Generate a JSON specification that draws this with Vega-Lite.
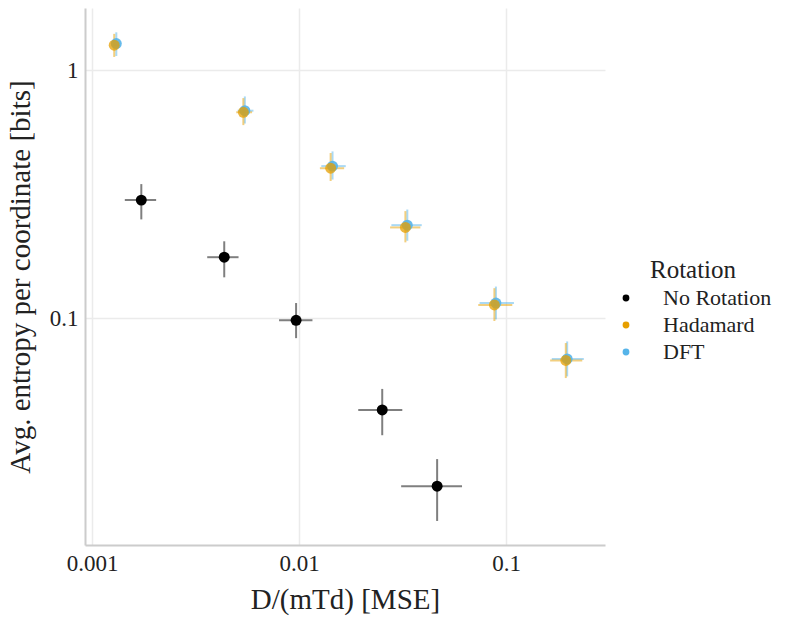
{
  "$schema": "https://vega.github.io/schema/vega-lite/v6.json",
  "width": 520,
  "height": 537,
  "autosize": {"type": "none"},
  "padding": {"left": 85, "top": 8, "right": 188, "bottom": 78},
  "background": "white",
  "config": {
    "font": "Liberation Serif",
    "view": {"stroke": null},
    "style": {
      "guide-label": {"font": "Liberation Serif"},
      "guide-title": {"font": "Liberation Serif"}
    },
    "axis": {
      "domainColor": "#cccccc",
      "domainWidth": 2,
      "gridColor": "#ebebeb",
      "gridWidth": 1.5,
      "ticks": false,
      "labelFont": "Liberation Serif",
      "labelFontSize": 23,
      "labelColor": "#222222",
      "titleFont": "Liberation Serif",
      "titleFontSize": 29,
      "titleFontWeight": "normal",
      "titleColor": "#222222"
    },
    "legend": {
      "titleFont": "Liberation Serif",
      "labelFont": "Liberation Serif",
      "titleFontSize": 25,
      "titleFontWeight": "normal",
      "labelFontSize": 22,
      "titleColor": "#222222",
      "labelColor": "#222222"
    }
  },
  "data": {
    "values": [
      {"rotation": "No Rotation", "x": 0.00173, "y": 0.299, "xlo": 0.00144, "xhi": 0.00204, "ylo": 0.25, "yhi": 0.347},
      {"rotation": "No Rotation", "x": 0.00435, "y": 0.176, "xlo": 0.0036, "xhi": 0.0051, "ylo": 0.146, "yhi": 0.204},
      {"rotation": "No Rotation", "x": 0.00967, "y": 0.098, "xlo": 0.008, "xhi": 0.0116, "ylo": 0.083, "yhi": 0.115},
      {"rotation": "No Rotation", "x": 0.0252, "y": 0.0426, "xlo": 0.0193, "xhi": 0.0315, "ylo": 0.0337, "yhi": 0.0518},
      {"rotation": "No Rotation", "x": 0.0464, "y": 0.021, "xlo": 0.0311, "xhi": 0.0612, "ylo": 0.0152, "yhi": 0.027},
      {"rotation": "DFT", "x": 0.00131, "y": 1.28, "xlo": 0.00126, "xhi": 0.00137, "ylo": 1.14, "yhi": 1.42},
      {"rotation": "DFT", "x": 0.00547, "y": 0.686, "xlo": 0.00505, "xhi": 0.00602, "ylo": 0.609, "yhi": 0.783},
      {"rotation": "DFT", "x": 0.0145, "y": 0.41, "xlo": 0.0128, "xhi": 0.0168, "ylo": 0.362, "yhi": 0.47},
      {"rotation": "DFT", "x": 0.0333, "y": 0.237, "xlo": 0.0279, "xhi": 0.0391, "ylo": 0.205, "yhi": 0.274},
      {"rotation": "DFT", "x": 0.0892, "y": 0.115, "xlo": 0.0744, "xhi": 0.109, "ylo": 0.0988, "yhi": 0.134},
      {"rotation": "DFT", "x": 0.197, "y": 0.0684, "xlo": 0.166, "xhi": 0.237, "ylo": 0.0582, "yhi": 0.0805},
      {"rotation": "Hadamard", "x": 0.00128, "y": 1.26, "xlo": 0.00124, "xhi": 0.00135, "ylo": 1.13, "yhi": 1.4},
      {"rotation": "Hadamard", "x": 0.00538, "y": 0.676, "xlo": 0.00497, "xhi": 0.00593, "ylo": 0.6, "yhi": 0.771},
      {"rotation": "Hadamard", "x": 0.0142, "y": 0.402, "xlo": 0.0126, "xhi": 0.0165, "ylo": 0.357, "yhi": 0.463},
      {"rotation": "Hadamard", "x": 0.0326, "y": 0.232, "xlo": 0.0275, "xhi": 0.0385, "ylo": 0.202, "yhi": 0.27},
      {"rotation": "Hadamard", "x": 0.0877, "y": 0.113, "xlo": 0.0733, "xhi": 0.107, "ylo": 0.0973, "yhi": 0.132},
      {"rotation": "Hadamard", "x": 0.194, "y": 0.0675, "xlo": 0.163, "xhi": 0.233, "ylo": 0.0573, "yhi": 0.0793}
    ]
  },
  "layer": [
    {
      "mark": {"type": "circle", "size": 120},
      "encoding": {
        "x": {"field": "x", "type": "quantitative", "scale": {"type": "log", "domain": [0.000925, 0.3], "nice": false}, "axis": {"values": [0.001, 0.01, 0.1], "format": "~g", "title": "D/(mTd) [MSE]", "labelPadding": 7, "titlePadding": 10}},
        "y": {"field": "y", "type": "quantitative", "scale": {"type": "log", "domain": [0.01216, 1.78], "nice": false}, "axis": {"values": [0.1, 1], "format": "~g", "title": "Avg. entropy per coordinate [bits]", "labelPadding": 7, "titlePadding": 14}},
        "color": {"field": "rotation", "type": "nominal", "scale": {"domain": ["No Rotation", "Hadamard", "DFT"], "range": ["#000000", "#E69F00", "#56B4E9"]}, "legend": {"title": "Rotation", "orient": "none", "legendX": 530, "legendY": 250, "symbolSize": 28, "symbolType": "circle", "symbolOpacity": 1, "labelOffset": 26, "rowPadding": 5, "titleAnchor": "middle", "titlePadding": 4, "titleFont": "Liberation Serif", "labelFont": "Liberation Serif", "titleFontSize": 25, "labelFontSize": 22, "titleFontWeight": "normal", "titleColor": "#222222", "labelColor": "#222222", "encode": {"labels": {"update": {"font": {"value": "Liberation Serif"}}}, "title": {"update": {"font": {"value": "Liberation Serif"}}}}}},
        "opacity": {"value": 0}
      }
    },
    {
      "mark": {"type": "rule", "strokeWidth": 2, "strokeOpacity": 0.5},
      "encoding": {
        "x": {"field": "xlo", "type": "quantitative"},
        "x2": {"field": "xhi"},
        "y": {"field": "y", "type": "quantitative"},
        "color": {"field": "rotation", "type": "nominal"}
      }
    },
    {
      "mark": {"type": "rule", "strokeWidth": 2, "strokeOpacity": 0.5},
      "encoding": {
        "x": {"field": "x", "type": "quantitative"},
        "y": {"field": "ylo", "type": "quantitative"},
        "y2": {"field": "yhi"},
        "color": {"field": "rotation", "type": "nominal"}
      }
    },
    {
      "mark": {"type": "circle", "size": 120},
      "encoding": {
        "x": {"field": "x", "type": "quantitative"},
        "y": {"field": "y", "type": "quantitative"},
        "color": {"field": "rotation", "type": "nominal"},
        "opacity": {"condition": [{"test": "datum.rotation === 'Hadamard'", "value": 0.75}, {"test": "datum.rotation === 'DFT'", "value": 0.9}], "value": 1}
      }
    }
  ]
}
